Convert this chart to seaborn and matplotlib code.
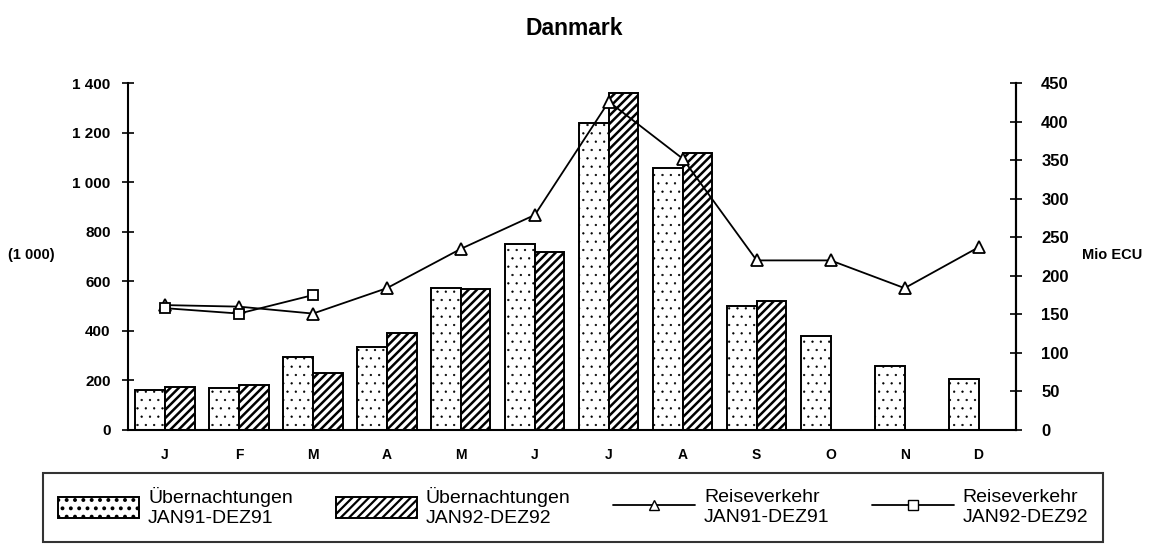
import numpy as np
import pandas as pd
import matplotlib
matplotlib.use("Agg")
import matplotlib.pyplot as plt
from matplotlib.ticker import FuncFormatter
from matplotlib.patches import Patch
from matplotlib.lines import Line2D
import seaborn as sns

months = ["J", "F", "M", "A", "M", "J", "J", "A", "S", "O", "N", "D"]
nights_91 = [163, 171, 293, 336, 573, 752, 1238, 1057, 499, 378, 258, 206]
nights_92 = [173, 180, 229, 391, 569, 720, 1359, 1117, 522, np.nan, np.nan, np.nan]
travel_91 = [162, 160, 151, 184, 235, 279, 426, 352, 220, 220, 184, 237]
travel_92 = [158, 151, 175, np.nan, np.nan, np.nan, np.nan, np.nan, np.nan, np.nan, np.nan, np.nan]
series_labels = ["Übernachtungen\nJAN91-DEZ91", "Übernachtungen\nJAN92-DEZ92",
                 "Reiseverkehr\nJAN91-DEZ91", "Reiseverkehr\nJAN92-DEZ92"]

sns.set_theme(style="white")
plt.rcParams["font.family"] = ["Liberation Sans", "DejaVu Sans"]
plt.rcParams["hatch.linewidth"] = 1.6
for k in ["text.color", "axes.labelcolor", "xtick.color", "ytick.color", "axes.edgecolor"]:
    plt.rcParams[k] = "black"

rows = []
for i in range(12):
    rows.append({"pos": i, "year": "91", "val": nights_91[i]})
    if not np.isnan(nights_92[i]):
        rows.append({"pos": i, "year": "92", "val": nights_92[i]})
df = pd.DataFrame(rows)

fig = plt.figure(figsize=(11.54, 5.47), dpi=100)
ax = fig.add_axes([0.111, 0.214, 0.769, 0.634])

sns.barplot(data=df, x="pos", y="val", hue="year", hue_order=["91", "92"],
            order=list(range(12)), width=0.8, dodge=True, ax=ax,
            palette=["white", "white"], edgecolor="black", linewidth=1.4,
            legend=False)


def style_dots(p):
    p.set_hatch("..")
    p.set_edgecolor("black")
    if hasattr(p, "set_hatch_linewidth"):
        p.set_hatch_linewidth(0.4)


def style_stripes(p):
    p.set_hatch("////")
    p.set_edgecolor("black")
    if hasattr(p, "set_hatch_linewidth"):
        p.set_hatch_linewidth(1.8)


for cont, fn in zip(ax.containers, [style_dots, style_stripes]):
    for p in cont:
        fn(p)

ax.set_ylim(0, 1400)
ax.set_xlim(-0.5, 11.5)
ax.set_yticks(np.arange(0, 1401, 200))
ax.yaxis.set_major_formatter(FuncFormatter(lambda v, p: f"{int(v):,}".replace(",", " ")))
ax.set_xticks(np.arange(12))
ax.set_xticklabels(months)
ax.set_xticks(np.arange(-0.5, 12, 1), minor=True)
ax.tick_params(axis="x", which="major", length=0, pad=13, labelsize=10)
ax.tick_params(axis="x", which="minor", direction="inout", length=8, width=1.2)
ax.tick_params(axis="y", direction="inout", length=9, width=1.2, labelsize=11, pad=8)
for lab in ax.get_xticklabels() + ax.get_yticklabels():
    lab.set_fontweight("bold")
ax.set_xlabel("")
ax.set_ylabel("")
for s in ["left", "bottom", "right"]:
    ax.spines[s].set_color("black")
    ax.spines[s].set_linewidth(1.5)
ax.spines["top"].set_visible(False)

ax2 = ax.twinx()
x = np.arange(12)
sns.lineplot(x=x, y=travel_91, ax=ax2, color="black", linewidth=1.3, marker="^",
             markersize=8, markerfacecolor="white", markeredgecolor="black",
             markeredgewidth=1.3, legend=False)
sns.lineplot(x=x[:3], y=travel_92[:3], ax=ax2, color="black", linewidth=1.3, marker="s",
             markersize=7.5, markerfacecolor="white", markeredgecolor="black",
             markeredgewidth=1.3, legend=False)
ax2.set_ylim(0, 450)
ax2.set_yticks(np.arange(0, 451, 50))
ax2.tick_params(axis="y", direction="inout", length=9, width=1.2, labelsize=12, pad=14)
for lab in ax2.get_yticklabels():
    lab.set_fontweight("bold")
ax2.grid(False)
ax2.spines["top"].set_visible(False)
ax2.spines["right"].set_linewidth(1.5)
ax2.spines["right"].set_color("black")
ax2.set_ylabel("")

fig.text(0.498, 0.948, "Danmark", ha="center", va="center", fontsize=16.5, fontweight="bold")
fig.text(0.007, 0.534, "(1 000)", ha="left", va="center", fontsize=10.5, fontweight="bold")
fig.text(0.938, 0.534, "Mio ECU", ha="left", va="center", fontsize=10.5, fontweight="bold")

handles = [
    Patch(facecolor="white", edgecolor="black", hatch="..", linewidth=1.4),
    Patch(facecolor="white", edgecolor="black", hatch="////", linewidth=1.4),
    Line2D([], [], color="black", marker="^", markerfacecolor="white", markersize=7, linewidth=1.3),
    Line2D([], [], color="black", marker="s", markerfacecolor="white", markersize=7, linewidth=1.3),
]
if hasattr(handles[0], "set_hatch_linewidth"):
    handles[0].set_hatch_linewidth(0.4)
    handles[1].set_hatch_linewidth(1.8)
leg = fig.legend(handles, series_labels, loc="lower center", bbox_to_anchor=(0.4965, -0.008),
                 ncol=4, frameon=True, fancybox=False, edgecolor="black", fontsize=14,
                 handlelength=4.2, handleheight=1.25, columnspacing=2.2, borderpad=0.75,
                 handletextpad=0.45, labelspacing=0.3)
leg.get_frame().set_linewidth(1.5)

fig.savefig("out.png", dpi=100, facecolor="white")
